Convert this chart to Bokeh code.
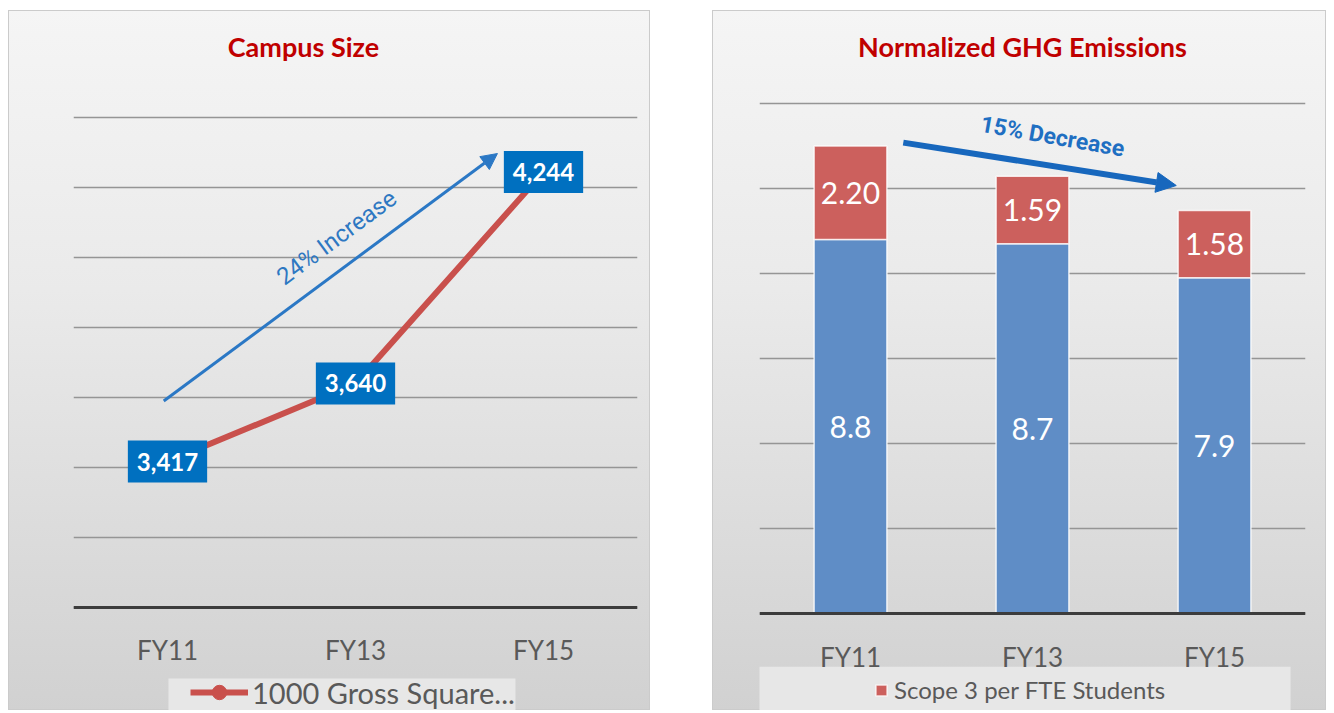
from bokeh.plotting import figure
from bokeh.models import (ColumnDataSource, FactorRange, Range1d, Arrow, NormalHead,
                          Label, Legend, LegendItem, BoxAnnotation, FixedTicker)
from bokeh.core.properties import value
from bokeh.layouts import row
from bokeh.embed import file_html
from bokeh.resources import INLINE

# ---------------- data ----------------
years = ["FY11", "FY13", "FY15"]
campus_ksf = [3417, 3640, 4244]
campus_labels = ["3,417", "3,640", "4,244"]
left_ticks = [3000, 3200, 3400, 3600, 3800, 4000, 4200, 4400]

scope12 = [8.8, 8.7, 7.9]          # blue segment
scope3 = [2.20, 1.59, 1.58]        # red segment
scope12_labels = ["8.8", "8.7", "7.9"]
scope3_labels = ["2.20", "1.59", "1.58"]
right_ticks = [0, 2, 4, 6, 8, 10, 12]

# visible value window (frame covers the whole panel; axis is fixed at the base value)
left_view = (2705.7, 4705.7)
right_view = (-2.282, 14.188)

# annotation anchors (x in synthetic category units 0..3)
left_title_pos = [1.223, 4603]
right_title_pos = [1.445, 13.34]
inc_arrow = [0.48, 3590, 2.255, 4297]
inc_text = [1.40, 4057]
dec_arrow = [0.79, 11.08, 2.29, 10.07]
dec_text = [1.61, 11.22]
left_legend_box = [0.505, 2.351, 2797, 2600]
right_legend_box = [-0.3, 2.918, -1.25, -2.6]

# ---------------- styles ----------------
TITLE_RED = "#c00000"
LINE_RED = "#c9504c"
BAR_BLUE = "#5f8dc6"
BAR_RED = "#cc605d"
LABEL_BLUE = "#0070c0"
GREY_TXT = "#595959"
BG = {"background": "linear-gradient(180deg, #f5f5f5 0%, #eaeaea 40%, #d1d1d1 100%)",
      "box-shadow": "inset 0 0 0 1px #cbcbcb"}


def base(fig, base_value):
    fig.background_fill_color = None
    fig.border_fill_color = None
    fig.outline_line_color = None
    fig.styles = BG
    fig.yaxis.visible = False
    fig.xgrid.grid_line_color = None
    fig.ygrid.grid_line_color = "#959595"
    fig.ygrid.grid_line_width = 1.6
    ax = fig.xaxis[0]
    ax.fixed_location = base_value
    ax.axis_line_color = "#3c3c3c"
    ax.axis_line_width = 3
    ax.major_tick_line_color = None
    ax.minor_tick_line_color = None
    ax.major_label_text_font = "Lato"
    ax.major_label_text_font_size = "26px"
    ax.major_label_text_color = GREY_TXT
    ax.major_label_standoff = 21


# ---------------- left: Campus Size ----------------
p1 = figure(x_range=FactorRange(*years), y_range=Range1d(*left_view),
            width=642, height=700, output_backend="svg", toolbar_location=None,
            title=None, min_border_left=65, min_border_right=13, min_border_top=0,
            min_border_bottom=0)
base(p1, left_ticks[0])
p1.yaxis.ticker = FixedTicker(ticks=left_ticks)
p1.ygrid.ticker = FixedTicker(ticks=left_ticks)

src1 = ColumnDataSource(dict(year=years, ksf=campus_ksf, lab=campus_labels))

p1.add_layout(BoxAnnotation(left=left_legend_box[0], right=left_legend_box[1],
                            top=left_legend_box[2], bottom=left_legend_box[3],
                            fill_color="#e7e7e7", fill_alpha=1,
                            line_color=None, level="underlay"))

ln = p1.line(x="year", y="ksf", source=src1, line_color=LINE_RED, line_width=6)
mk = p1.scatter(x="year", y="ksf", source=src1, size=22, fill_color=LINE_RED,
                line_color=LINE_RED)
p1.text(x="year", y="ksf", text="lab", source=src1, text_color="white",
        text_font=value("Lato"), text_font_style="bold", text_font_size="24px",
        text_align="center", text_baseline="middle",
        background_fill_color=LABEL_BLUE, padding=(9, 12))

p1.add_layout(Arrow(end=NormalHead(size=16, fill_color="#2b78c5", line_color="#2b78c5"),
                    x_start=inc_arrow[0], y_start=inc_arrow[1],
                    x_end=inc_arrow[2], y_end=inc_arrow[3],
                    line_color="#2b78c5", line_width=3))
p1.add_layout(Label(x=inc_text[0], y=inc_text[1],
                    text="24% Increase", angle=36.5, angle_units="deg",
                    text_align="center", text_baseline="middle",
                    text_color="#2e78c2", text_font="Roboto", text_font_size="24px"))
p1.add_layout(Label(x=left_title_pos[0], y=left_title_pos[1],
                    text="Campus Size", text_align="center", text_baseline="middle",
                    text_color=TITLE_RED, text_font="Lato", text_font_style="bold",
                    text_font_size="27px"))

leg1 = Legend(items=[LegendItem(label="1000 Gross Square...", renderers=[ln, mk])],
              location=(117, 0), background_fill_alpha=0, border_line_color=None,
              padding=0, margin=0, glyph_width=58, glyph_height=36, label_standoff=4,
              label_text_font="Lato", label_text_font_size="29px",
              label_text_color=GREY_TXT)
p1.add_layout(leg1, "center")

# ---------------- right: Normalized GHG Emissions ----------------
p2 = figure(x_range=FactorRange(*years), y_range=Range1d(*right_view),
            width=614, height=700, output_backend="svg", toolbar_location=None,
            title=None, min_border_left=47, min_border_right=21, min_border_top=0,
            min_border_bottom=0)
base(p2, right_ticks[0])
p2.yaxis.ticker = FixedTicker(ticks=right_ticks)
p2.ygrid.ticker = FixedTicker(ticks=right_ticks)

mid12 = [b / 2 for b in scope12]
mid3 = [b + r / 2 for b, r in zip(scope12, scope3)]
src2 = ColumnDataSource(dict(year=years, s12=scope12, s3=scope3,
                             mid12=mid12, mid3=mid3,
                             lab12=scope12_labels, lab3=scope3_labels))

p2.add_layout(BoxAnnotation(left=right_legend_box[0], right=right_legend_box[1],
                            top=right_legend_box[2], bottom=right_legend_box[3],
                            fill_color="#e7e7e7", fill_alpha=1,
                            line_color=None, level="underlay"))

rs = p2.vbar_stack(["s12", "s3"], x="year", width=0.4, color=[BAR_BLUE, BAR_RED],
                   source=src2, line_color="white", line_width=1.5, line_alpha=0.8)
for col, lab in (("mid12", "lab12"), ("mid3", "lab3")):
    p2.text(x="year", y=col, text=lab, source=src2, text_color="white",
            text_font=value("Lato"), text_font_size="30px",
            text_align="center", text_baseline="middle")

p2.add_layout(Arrow(end=NormalHead(size=20, fill_color="#1767bd", line_color="#1767bd"),
                    x_start=dec_arrow[0], y_start=dec_arrow[1],
                    x_end=dec_arrow[2], y_end=dec_arrow[3],
                    line_color="#1767bd", line_width=6))
p2.add_layout(Label(x=dec_text[0], y=dec_text[1],
                    text="15% Decrease", angle=-10, angle_units="deg",
                    text_align="center", text_baseline="middle",
                    text_color="#1f6fc2", text_font="Roboto", text_font_style="bold",
                    text_font_size="23px"))
p2.add_layout(Label(x=right_title_pos[0], y=right_title_pos[1],
                    text="Normalized GHG Emissions", text_align="center",
                    text_baseline="middle", text_color=TITLE_RED, text_font="Lato",
                    text_font_style="bold", text_font_size="27px"))

leg2 = Legend(items=[LegendItem(label="Scope 3 per FTE Students", renderers=[rs[1]])],
              location=(115, 6), background_fill_alpha=0, border_line_color=None,
              padding=0, margin=0, glyph_width=14, glyph_height=14, label_standoff=6,
              label_text_font="Lato", label_text_font_size="24px",
              label_text_color=GREY_TXT)
p2.add_layout(leg2, "center")

layout = row(p1, p2, spacing=62, margin=(10, 0, 0, 8))
open("out.html", "w").write(file_html(layout, INLINE))
